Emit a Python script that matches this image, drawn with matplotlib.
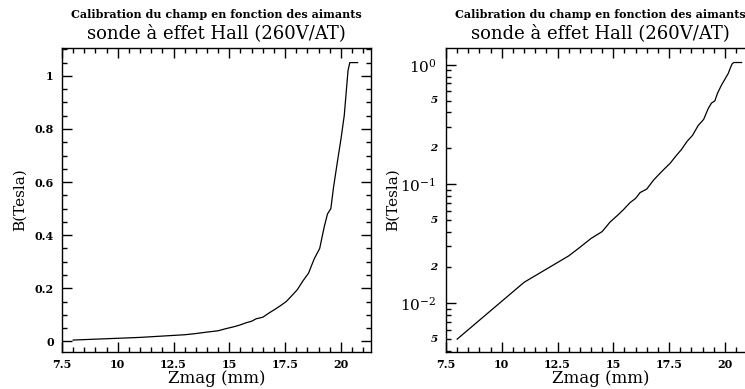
import matplotlib
matplotlib.use("Agg")
import matplotlib.pyplot as plt
from matplotlib.ticker import MultipleLocator, LogLocator, FixedLocator, FixedFormatter, NullFormatter

plt.rcParams['font.family'] = ['DejaVu Serif']
plt.rcParams['mathtext.fontset'] = 'dejavuserif'

zmag = [8.0, 11.0, 13.0, 13.4, 14.0, 14.5, 14.85, 15.2, 15.45, 15.75, 16.0, 16.2,
        16.5, 16.8, 17.05, 17.3, 17.55, 17.8, 18.05, 18.3, 18.55, 18.8, 19.05,
        19.25, 19.4, 19.55, 19.67, 19.85, 20.0, 20.15, 20.25, 20.32, 20.4, 20.75]
btesla = [0.005, 0.015, 0.025, 0.0285, 0.035, 0.040, 0.048, 0.055, 0.061, 0.070,
          0.076, 0.085, 0.091, 0.108, 0.121, 0.135, 0.150, 0.172, 0.195, 0.228,
          0.257, 0.310, 0.350, 0.430, 0.480, 0.500, 0.580, 0.680, 0.760, 0.850,
          0.950, 1.020, 1.050, 1.050]

title1 = "Calibration du champ en fonction des aimants"
title2 = "sonde à effet Hall (260V/AT)"
xlabel = "Zmag (mm)"
ylabel = "B(Tesla)"
xticks = [7.5, 10, 12.5, 15, 17.5, 20]
xticklabels = ['7.5', '10', '12.5', '15', '17.5', '20']
lin_yticks = [0, 0.2, 0.4, 0.6, 0.8, 1.0]
lin_yticklabels = ['0', '0.2', '0.4', '0.6', '0.8', '1']
log_yticks = [0.01, 0.1, 1.0]
log_yticklabels = [r'$10^{-2}$', r'$10^{-1}$', r'$10^{0}$']
log_minor_labeled = [0.005, 0.02, 0.05, 0.2, 0.5]
log_minor_text = ['5', '2', '5', '2', '5']

W, H = 745, 389
fig = plt.figure(figsize=(W/100, H/100), dpi=100)

def pos(x0, y0, x1, y1):
    return [x0/W, 1 - y1/H, (x1-x0)/W, (y1-y0)/H]

ax1 = fig.add_axes(pos(62, 48, 371, 352))
ax2 = fig.add_axes(pos(446, 48, 755, 352))
ax2.set_yscale('log')

for ax in (ax1, ax2):
    ax.plot(zmag, btesla, color='black', lw=0.9)
    ax.set_xlim(7.5, 21.35)
    ax.xaxis.set_major_locator(FixedLocator(xticks))
    ax.xaxis.set_major_formatter(FixedFormatter(xticklabels))
    ax.xaxis.set_minor_locator(MultipleLocator(0.5))
    for s in ax.spines.values():
        s.set_linewidth(1.0)
    ax.set_xlabel(xlabel, fontsize=12, labelpad=0)
    ax.set_ylabel(ylabel, fontsize=11)
    cx = (ax.get_position().x0 + ax.get_position().x1) / 2
    fig.text(cx, 1 - 14/H, title1, ha='center', va='center', fontsize=8, fontweight='bold')
    fig.text(cx, 1 - 33/H, title2, ha='center', va='center', fontsize=13)

# left linear
ax1.set_ylim(-0.04, 1.105)
ax1.yaxis.set_major_locator(FixedLocator(lin_yticks))
ax1.yaxis.set_major_formatter(FixedFormatter(lin_yticklabels))
ax1.yaxis.set_minor_locator(MultipleLocator(0.05))
ax1.tick_params(axis='y', labelsize=8, pad=6)
ax1.yaxis.set_label_coords(-0.113, 0.5)

# right log
ax2.set_ylim(0.0039, 1.39)
ax2.yaxis.set_major_locator(FixedLocator(log_yticks))
ax2.yaxis.set_major_formatter(FixedFormatter(log_yticklabels))
ax2.yaxis.set_minor_locator(LogLocator(base=10, subs=[2, 3, 4, 5, 6, 7, 8, 9]))
ax2.yaxis.set_minor_formatter(NullFormatter())
ax2.tick_params(axis='y', which='major', labelsize=11, pad=7)
for v, t in zip(log_minor_labeled, log_minor_text):
    ax2.annotate(t, xy=(0, v), xycoords=('axes fraction', 'data'),
                 xytext=(-6, 0), textcoords='offset points',
                 ha='right', va='center', fontsize=7.5, fontweight='bold', style='italic')
ax2.yaxis.set_label_coords(-0.149, 0.5)

for ax in (ax1, ax2):
    ax.tick_params(axis='both', which='both', direction='in', top=True, right=True,
                   left=True, bottom=True, width=1.0)
    ax.tick_params(axis='both', which='major', length=7)
    ax.tick_params(axis='both', which='minor', length=3.5)
    ax.tick_params(axis='x', which='major', labelsize=8, pad=5)
    for lab in ax.get_xticklabels():
        lab.set_fontweight('bold')
for lab in ax1.get_yticklabels():
    lab.set_fontweight('bold')

fig.savefig('out.png', dpi=100)
